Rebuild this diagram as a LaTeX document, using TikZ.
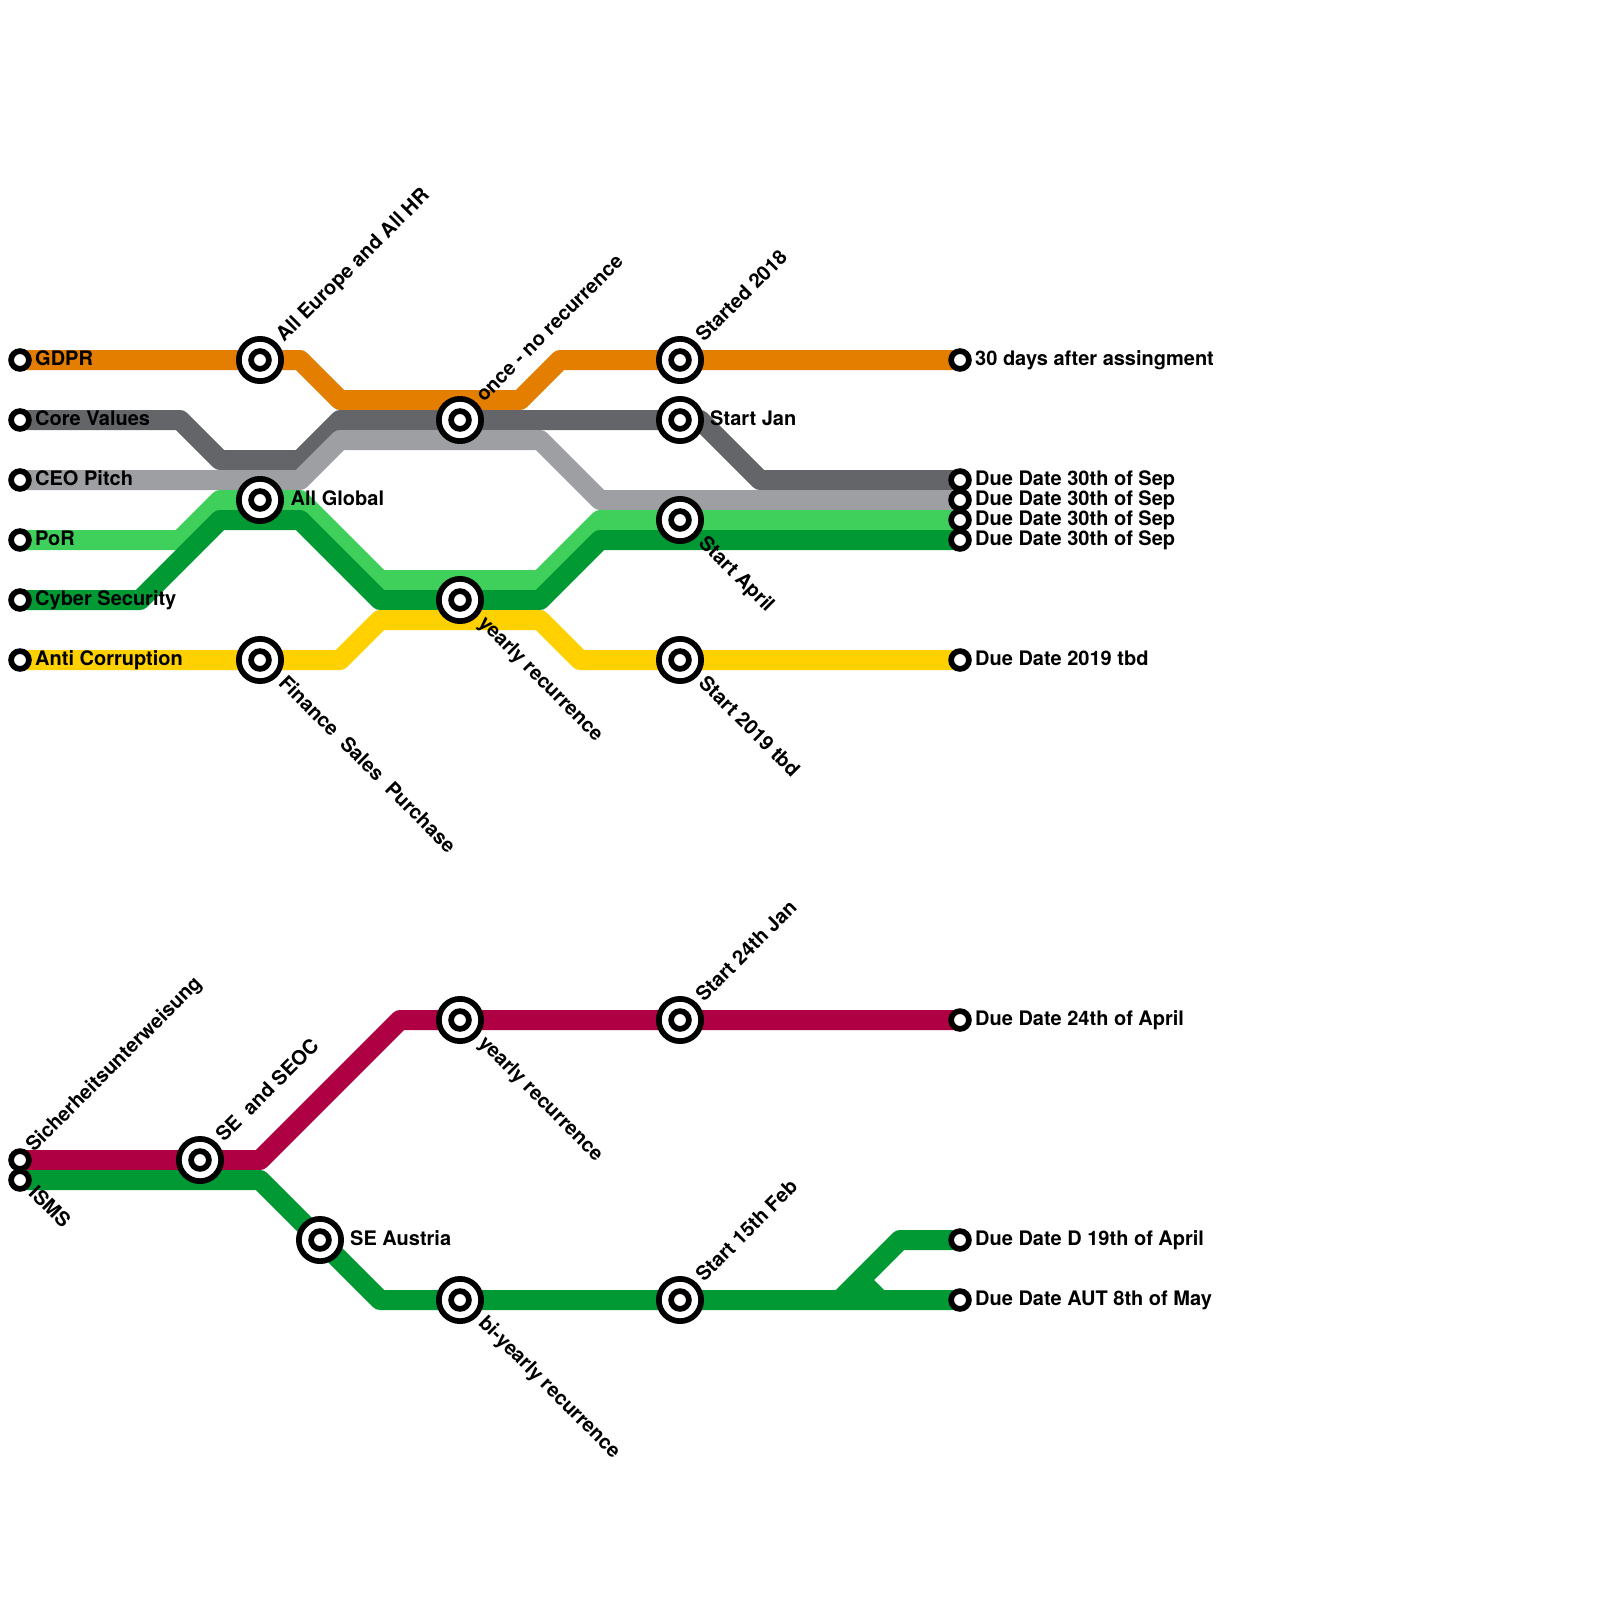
\documentclass[tikz,border=0pt]{standalone}
\usepackage{fontspec}
\setmainfont{TeX Gyre Heros}
\usetikzlibrary{backgrounds}
\definecolor{cOrange}{HTML}{E37E00}
\definecolor{cDark}{HTML}{636569}
\definecolor{cGrey}{HTML}{9D9FA2}
\definecolor{cLight}{HTML}{3FD05B}
\definecolor{cGreen}{HTML}{009933}
\definecolor{cYellow}{HTML}{FFD100}
\definecolor{cRed}{HTML}{AF0043}
\tikzset{
  x=1pt,y=-1pt,
  route/.style={line width=20pt,line join=round,line cap=butt},
  term/.style={circle,draw=black,fill=white,line width=5.7pt,minimum size=17.8pt,inner sep=0pt,outer sep=0pt},
  stop/.style={circle,draw=black,fill=white,line width=5.7pt,minimum size=42.3pt,inner sep=0pt,outer sep=0pt,
    path picture={\draw[black,line width=5.7pt] (path picture bounding box.center) circle (8.9pt);}},
  lab/.style={font=\fontsize{20}{22}\selectfont\bfseries,text=black,inner sep=0pt,anchor=base west},
  labup/.style={lab,rotate=45},
  labdown/.style={lab,rotate=-45},
}
\begin{document}
\begin{tikzpicture}
\useasboundingbox (0,0) rectangle (1600,1600);
% stations
\node[stop] (sA) at (260,360) {};
\node[stop] (sB) at (260,500) {};
\node[stop] (sC) at (260,660) {};
\node[stop] (sD) at (460,420) {};
\node[stop] (sE) at (460,600) {};
\node[stop] (sF) at (680,360) {};
\node[stop] (sG) at (680,420) {};
\node[stop] (sH) at (680,520) {};
\node[stop] (sI) at (680,660) {};
\node[stop] (sJ) at (460,1020) {};
\node[stop] (sK) at (680,1020) {};
\node[stop] (sL) at (200,1160) {};
\node[stop] (sM) at (320,1240) {};
\node[stop] (sN) at (460,1300) {};
\node[stop] (sO) at (680,1300) {};
% left termini
\node[term] (lGDPR) at (20,360) {};
\node[term] (lCore) at (20,420) {};
\node[term] (lCEO) at (20,480) {};
\node[term] (lPoR) at (20,540) {};
\node[term] (lCyber) at (20,600) {};
\node[term] (lAnti) at (20,660) {};
\node[term] (lSich) at (20,1160) {};
\node[term] (lISMS) at (20,1180) {};
% right termini
\node[term] (rGDPR) at (960,360) {};
\node[term] (rCore) at (960,480) {};
\node[term] (rCEO) at (960,500) {};
\node[term] (rPoR) at (960,520) {};
\node[term] (rCyber) at (960,540) {};
\node[term] (rAnti) at (960,660) {};
\node[term] (rSich) at (960,1020) {};
\node[term] (rD) at (960,1240) {};
\node[term] (rAUT) at (960,1300) {};
% labels
\node[lab] (t1) at (35,365.2) {GDPR};
\node[lab] (t2) at (35,425.2) {Core Values};
\node[lab] (t3) at (35,485.2) {CEO Pitch};
\node[lab] (t4) at (35,545.2) {PoR};
\node[lab] (t5) at (35,605.2) {Cyber Security};
\node[lab] (t6) at (35,665.2) {Anti Corruption};
\node[lab] (t7) at (290.5,505.2) {All Global};
\node[lab] (t8) at (710,425.2) {Start Jan};
\node[lab] (t9) at (350,1245.2) {SE Austria};
\node[lab] (r1) at (975,365.2) {30 days after assingment};
\node[lab] (r2) at (975,485.2) {Due Date 30th of Sep};
\node[lab] (r3) at (975,505.2) {Due Date 30th of Sep};
\node[lab] (r4) at (975,525.2) {Due Date 30th of Sep};
\node[lab] (r5) at (975,545.2) {Due Date 30th of Sep};
\node[lab] (r6) at (975,665.2) {Due Date 2019 tbd};
\node[lab] (r7) at (975,1025.2) {Due Date 24th of April};
\node[lab] (r8) at (975,1245.2) {Due Date D 19th of April};
\node[lab] (r9) at (975,1305.2) {Due Date AUT 8th of May};
\node[labup] (u1) at (284,343) {All Europe and All HR};
\node[labup] (u2) at (484,403) {once - no recurrence};
\node[labup] (u3) at (704,343) {Started 2018};
\node[labup] (u4) at (704,1003) {Start 24th Jan};
\node[labup] (u5) at (704,1283) {Start 15th Feb};
\node[labup] (u6) at (224,1143) {SE\ \ and SEOC};
\node[labup] (u7) at (34,1153) {Sicherheitsunterweisung};
\node[labdown] (d1) at (277.5,684) {Finance\ \ Sales\ \ Purchase};
\node[labdown] (d2) at (477.5,624) {yearly recurrence};
\node[labdown] (d3) at (697.5,544) {Start April};
\node[labdown] (d4) at (697.5,684) {Start 2019 tbd};
\node[labdown] (d5) at (477.5,1044) {yearly recurrence};
\node[labdown] (d6) at (477.5,1324) {bi-yearly recurrence};
\node[labdown] (d7) at (27.5,1194) {ISMS};
% routes
\begin{scope}[on background layer]
\draw[route,cOrange] (lGDPR.center) -- (sA.center) -- (300,360) -- (340,400) -- (520,400) -- (560,360) -- (sF.center) -- (rGDPR.center);
\draw[route,cDark] (lCore.center) -- (180,420) -- (220,460) -- (300,460) -- (340,420) -- (sD.center) -- (sG.center) -- (700,420) -- (760,480) -- (rCore.center);
\draw[route,cGrey] (lCEO.center) -- (300,480) -- (340,440) -- (540,440) -- (600,500) -- (rCEO.center);
\draw[route,cLight] (lPoR.center) -- (180,540) -- (220,500) -- (sB.center) -- (300,500) -- (380,580) -- (540,580) -- (600,520) -- (sH.center) -- (rPoR.center);
\draw[route,cGreen] (lCyber.center) -- (140,600) -- (220,520) -- (300,520) -- (380,600) -- (sE.center) -- (540,600) -- (600,540) -- (rCyber.center);
\draw[route,cYellow] (lAnti.center) -- (sC.center) -- (340,660) -- (380,620) -- (540,620) -- (580,660) -- (sI.center) -- (rAnti.center);
\draw[route,cRed] (lSich.center) -- (sL.center) -- (260,1160) -- (400,1020) -- (sJ.center) -- (sK.center) -- (rSich.center);
\draw[route,cGreen] (lISMS.center) -- (260,1180) -- (sM.center) -- (380,1300) -- (sN.center) -- (sO.center) -- (rAUT.center);
\draw[route,cGreen] (840,1300) -- (900,1240) -- (rD.center);
\draw[route,cGreen] (860,1280) -- (880,1300);
\end{scope}
\end{tikzpicture}
\end{document}
